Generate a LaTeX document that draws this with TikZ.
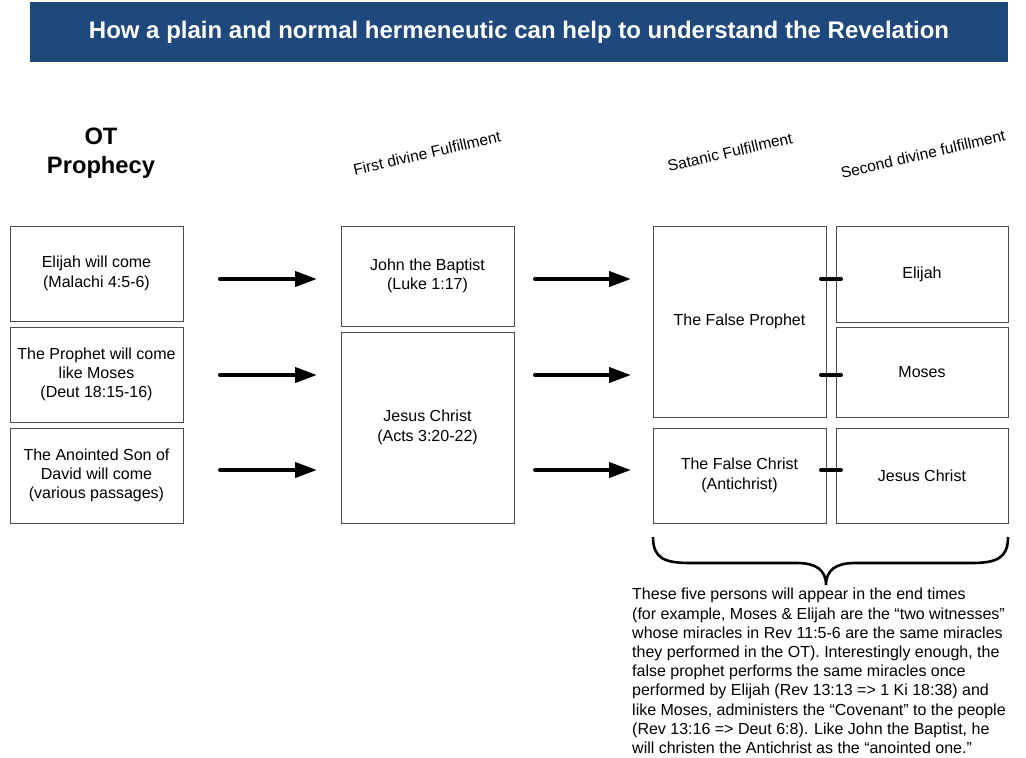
\documentclass[tikz,border=0pt]{standalone}
\usepackage{fontspec}
\setmainfont{Liberation Sans}
\usetikzlibrary{arrows.meta}
\definecolor{titleblue}{RGB}{31,73,125}
\begin{document}
\begin{tikzpicture}[x=1pt,y=-1pt,
  box/.style={draw=black!70, line width=0.9pt, align=center, inner sep=2pt,
    font=\fontsize{16}{19.3}\selectfont},
  bigarrow/.style={line width=4pt, line cap=round, -{Triangle[length=22pt,width=15pt]}},
  tick/.style={line width=4pt, line cap=round},
  collabel/.style={rotate=13, font=\fontsize{15.6}{18}\selectfont},
  brace/.style={line width=2.6pt}]
\useasboundingbox (0,0) rectangle (1026,758);
\node[fill=titleblue, minimum width=978pt, minimum height=60pt, inner sep=0pt,
  text=white, font=\bfseries\fontsize{24}{28}\selectfont] (title) at (519,32)
  {How a plain and normal hermeneutic can help to understand the Revelation};
\node[align=center, font=\bfseries\fontsize{23.7}{29}\selectfont] (ot) at (101,153) {OT\\Prophecy};
\node[collabel] (l1) at (427,153) {First divine Fulfillment};
\node[collabel] (l2) at (730,152) {Satanic Fulfillment};
\node[collabel] (l3) at (923,154) {Second divine fulfillment};
% column 1
\node[box, minimum width=173pt, minimum height=95pt] (a1) at (96.5,273.5) {Elijah will come\\(Malachi 4:5-6)};
\node[box, minimum width=173pt, minimum height=95pt] (a2) at (96.5,374.5) {The Prophet will come\\like Moses\\(Deut 18:15-16)};
\node[box, minimum width=173pt, minimum height=95pt] (a3) at (96.5,475.5) {The Anointed Son of\\David will come\\(various passages)};
% column 2
\node[box, minimum width=173pt, minimum height=100pt] (b1) at (427.5,276) {John the Baptist\\(Luke 1:17)};
\node[box, minimum width=173pt, minimum height=191pt] (b2) at (427.5,427.5) {Jesus Christ\\(Acts 3:20-22)};
% column 3
\node[box, minimum width=173pt, minimum height=191pt] (c1) at (739.5,321.5) {The False Prophet};
\node[box, minimum width=173pt, minimum height=95pt] (c2) at (739.5,475.5) {The False Christ\\(Antichrist)};
% column 4
\node[box, minimum width=172pt, minimum height=96pt] (d1) at (922,274) {Elijah};
\node[box, minimum width=172pt, minimum height=90pt] (d2) at (922,372) {Moses};
\node[box, minimum width=172pt, minimum height=95pt] (d3) at (922,475.5) {Jesus Christ};
% arrow coordinates
\coordinate (p1s) at (220,279); \coordinate (p1e) at (317,279);
\coordinate (p2s) at (220,375); \coordinate (p2e) at (317,375);
\coordinate (p3s) at (220,470); \coordinate (p3e) at (317,470);
\coordinate (q1s) at (535,279); \coordinate (q1e) at (631,279);
\coordinate (q2s) at (535,375); \coordinate (q2e) at (631,375);
\coordinate (q3s) at (535,470); \coordinate (q3e) at (631,470);
\draw[bigarrow] (p1s) -- (p1e);
\draw[bigarrow] (p2s) -- (p2e);
\draw[bigarrow] (p3s) -- (p3e);
\draw[bigarrow] (q1s) -- (q1e);
\draw[bigarrow] (q2s) -- (q2e);
\draw[bigarrow] (q3s) -- (q3e);
% ticks
\coordinate (t1s) at (821,279); \coordinate (t1e) at (841,279);
\coordinate (t2s) at (821,375); \coordinate (t2e) at (841,375);
\coordinate (t3s) at (821,470); \coordinate (t3e) at (841,470);
\draw[tick] (t1s) -- (t1e);
\draw[tick] (t2s) -- (t2e);
\draw[tick] (t3s) -- (t3e);
% brace
\coordinate (bl) at (653,537); \coordinate (bt) at (826,585); \coordinate (br) at (1008,537);
\draw[brace] (bl) .. controls (653,558) and (664,563) .. (690,563) -- (797,563)
  .. controls (816,563) and (826,570) .. (bt)
  .. controls (826,570) and (836,563) .. (855,563) -- (971,563)
  .. controls (997,563) and (1008,558) .. (br);
\node[anchor=north west, inner sep=0pt, align=left, font=\fontsize{16}{19.2}\selectfont] (note) at (632,588)
{These five persons will appear in the end times\\
(for example, Moses \& Elijah are the “two witnesses”\\
whose miracles in Rev 11:5-6 are the same miracles\\
they performed in the OT). Interestingly enough, the\\
false prophet performs the same miracles once\\
performed by Elijah (Rev 13:13 => 1 Ki 18:38) and\\
like Moses, administers the “Covenant” to the people\\
(Rev 13:16 => Deut 6:8). Like John the Baptist, he\\
will christen the Antichrist as the “anointed one.”};
\end{tikzpicture}
\end{document}
